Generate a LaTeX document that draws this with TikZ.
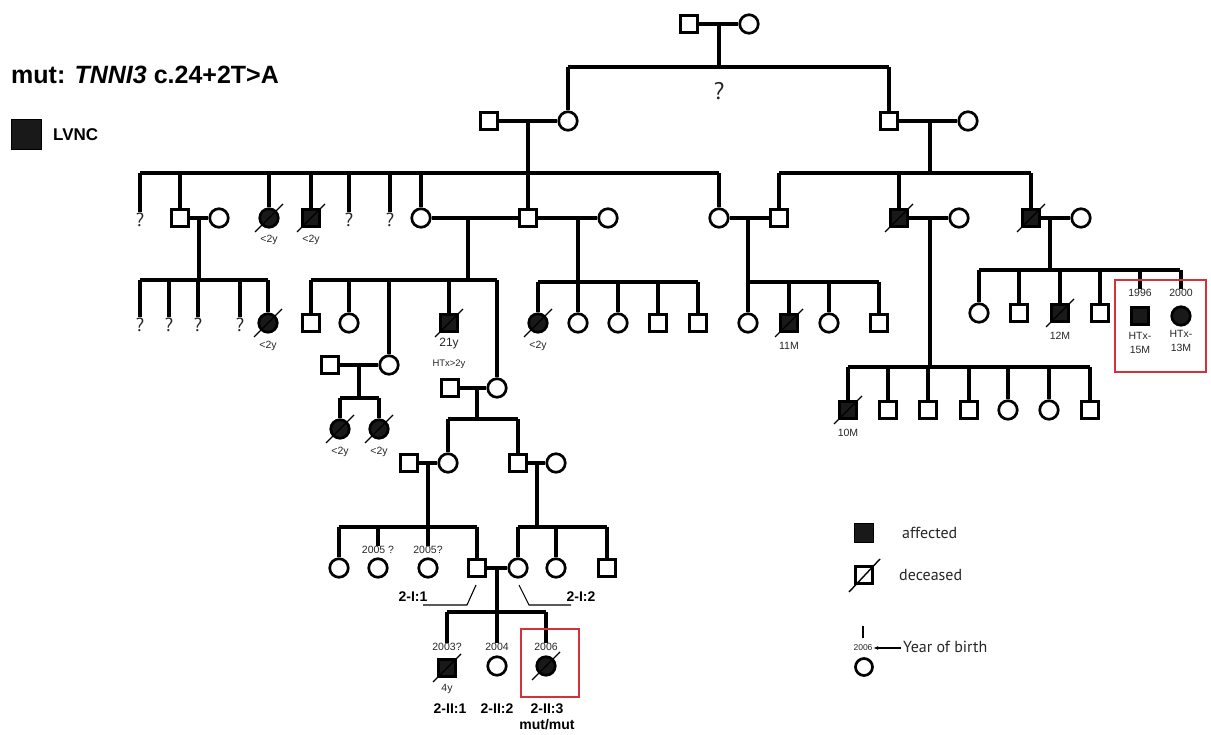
\documentclass[tikz,border=0pt]{standalone}
\usepackage{fontspec}
\setmainfont{Liberation Sans}
\newfontfamily\myr{PT Sans}
\usetikzlibrary{arrows.meta}
\definecolor{boxred}{RGB}{214,48,58}
\newcommand\decd[1]{\draw[dec] ([shift={(-14,14)}]#1.center) -- ([shift={(14,-14)}]#1.center);}
\begin{document}
\begin{tikzpicture}[x=1pt,y=-1pt,
 lin/.style={line width=3.1pt},
 sq/.style={draw,line width=2.7pt,rectangle,minimum size=17pt,inner sep=0pt},
 ci/.style={draw,line width=2.7pt,circle,minimum size=18.5pt,inner sep=0pt},
 aff/.style={fill=black!90},
 dec/.style={line width=1.3pt},
 q/.style={font=\myr\fontsize{19}{19}\selectfont,inner sep=0.5pt,text=black!85},
 sm/.style={font=\fontsize{10.5}{10.5}\selectfont,inner sep=0.5pt,text=black!85},
 yr/.style={font=\fontsize{10.5}{10.5}\selectfont,inner sep=0.5pt,text=black!85},
 idl/.style={font=\bfseries\fontsize{14}{14}\selectfont,inner sep=0.5pt},
 lead/.style={line width=1.1pt},
 rbox/.style={draw=boxred,line width=2.8pt},
 legt/.style={font=\myr\fontsize{16}{16}\selectfont,anchor=west,inner sep=0pt,text=black!85}
]
\useasboundingbox (0,0) rectangle (1211,735);

% title and LVNC key
\node[anchor=west,inner sep=0pt,font=\bfseries\fontsize{25}{25}\selectfont] (title) at (11,75) {mut: \textit{TNNI3} c.24+2T>A};
\node[draw,fill=black!90,line width=0.5pt,minimum size=30pt,inner sep=0pt] (lvsq) at (26,134) {};
\node[anchor=west,inner sep=0pt,font=\bfseries\fontsize{17}{17}\selectfont] (lvnc) at (53,135) {LVNC};

% ---------- Generation I ----------
\node[sq] (I1) at (689,24) {};
\node[ci] (I2) at (749,24) {};
\draw[lin] (I1) -- (I2);
\coordinate (dI) at (719,24);
\coordinate (sI) at (719,67);
\coordinate (sIl) at (568,67);
\coordinate (sIr) at (889,67);
\draw[lin] (dI) -- (sI);
\draw[lin] (sIl) -- (sIr);
\node[font=\myr\fontsize{24}{24}\selectfont,text=black!85] (qI) at (719,91) {?};

% ---------- Generation II ----------
\node[sq] (II1) at (489,121) {};
\node[ci] (II2) at (568,121) {};
\node[sq] (II3) at (889,121) {};
\node[ci] (II4) at (968,121) {};
\draw[lin] (II2) -- (II2 |- sI);
\draw[lin] (II3) -- (II3 |- sI);
\draw[lin] (II1) -- (II2);
\draw[lin] (II3) -- (II4);
\coordinate (dIIa) at (528,121);
\coordinate (dIIb) at (930,121);
\coordinate (sIIa) at (528,173);
\coordinate (sIIb) at (930,173);
\coordinate (sIIal) at (140,173);
\coordinate (sIIar) at (719,173);
\coordinate (sIIbl) at (779,173);
\coordinate (sIIbr) at (1031,173);
\draw[lin] (dIIa) -- (sIIa);
\draw[lin] (dIIb) -- (sIIb);
\draw[lin] (sIIal) -- (sIIar);
\draw[lin] (sIIbl) -- (sIIbr);

% ---------- Generation III ----------
\node[q] (qa) at (140,220) {?};
\node[sq] (G3a) at (180,218) {};
\node[ci] (G3b) at (219,218) {};
\node[ci,aff] (G3c) at (269,218) {};
\node[sq,aff] (G3d) at (311,218) {};
\node[q] (qb) at (349,220) {?};
\node[q] (qc) at (390,220) {?};
\node[ci] (G3e) at (421,218) {};
\node[sq] (G3f) at (528,218) {};
\node[ci] (G3g) at (608,218) {};
\node[ci] (G3h) at (719,218) {};
\node[sq] (G3i) at (779,218) {};
\node[sq,aff] (G3j) at (899,218) {};
\node[ci] (G3k) at (959,218) {};
\node[sq,aff] (G3l) at (1031,218) {};
\node[ci] (G3m) at (1081,218) {};
\decd{G3c}\decd{G3d}\decd{G3j}\decd{G3l}
\node[sm] (l3c) at (269,240) {<2y};
\node[sm] (l3d) at (311,240) {<2y};
\foreach \n in {qa,G3a,G3c,G3d,qb,qc,G3e,G3f,G3h}{\draw[lin] (\n) -- (\n |- sIIa);}
\foreach \n in {G3i,G3j,G3l}{\draw[lin] (\n) -- (\n |- sIIb);}
\draw[lin] (G3a) -- (G3b);
\draw[lin] (G3e) -- (G3f);
\draw[lin] (G3f) -- (G3g);
\draw[lin] (G3h) -- (G3i);
\draw[lin] (G3j) -- (G3k);
\draw[lin] (G3l) -- (G3m);

% descent lines from gen III couples
\coordinate (dA) at (199,218); \coordinate (sA) at (199,280);
\coordinate (dB) at (468,218); \coordinate (sB) at (468,280);
\coordinate (dC) at (578,218); \coordinate (sC) at (578,282);
\coordinate (dD) at (748,218); \coordinate (sD) at (748,282);
\coordinate (dE) at (930,218); \coordinate (sE) at (930,367);
\coordinate (dF) at (1050,218); \coordinate (sF) at (1050,270);
\foreach \a/\b in {dA/sA,dB/sB,dC/sC,dD/sD,dE/sE,dF/sF}{\draw[lin] (\a) -- (\b);}

% ---------- Generation IV ----------
% family A
\coordinate (sAl) at (140,280); \coordinate (sAr) at (268,280);
\draw[lin] (sAl) -- (sAr);
\node[q] (qd) at (140,325) {?};
\node[q] (qe) at (169,325) {?};
\node[q] (qf) at (198,325) {?};
\node[q] (qg) at (240,325) {?};
\node[ci,aff] (G4a) at (268,323) {};
\decd{G4a}
\node[sm] (l4a) at (268,346) {<2y};
\foreach \n in {qd,qe,qf,qg,G4a}{\draw[lin] (\n) -- (\n |- sA);}

% family B
\coordinate (sBl) at (311,280); \coordinate (sBr) at (497,280);
\draw[lin] (sBl) -- (sBr);
\node[sq] (G4b) at (311,323) {};
\node[ci] (G4c) at (349,323) {};
\node[ci] (G4d) at (389,365) {};
\node[sq,aff] (G4e) at (449,323) {};
\node[ci] (G4f) at (497,388) {};
\decd{G4e}
\node[sm,font=\fontsize{12}{12}\selectfont] (l4e) at (449,344) {21y};
\node[sm,font=\fontsize{9.5}{9.5}\selectfont] (l4e2) at (449,364) {HTx>2y};
\foreach \n in {G4b,G4c,G4d,G4e,G4f}{\draw[lin] (\n) -- (\n |- sB);}

% family C
\coordinate (sCl) at (538,282); \coordinate (sCr) at (698,282);
\draw[lin] (sCl) -- (sCr);
\node[ci,aff] (G4g) at (538,323) {};
\node[ci] (G4h) at (578,323) {};
\node[ci] (G4i) at (618,323) {};
\node[sq] (G4j) at (658,323) {};
\node[sq] (G4k) at (698,323) {};
\decd{G4g}
\node[sm] (l4g) at (538,346) {<2y};
\foreach \n in {G4g,G4h,G4i,G4j,G4k}{\draw[lin] (\n) -- (\n |- sC);}

% family D
\coordinate (sDl) at (748,282); \coordinate (sDr) at (879,282);
\draw[lin] (sDl) -- (sDr);
\node[ci] (G4l) at (748,323) {};
\node[sq,aff] (G4m) at (789,323) {};
\node[ci] (G4n) at (829,323) {};
\node[sq] (G4o) at (879,323) {};
\decd{G4m}
\node[sm] (l4m) at (789,346) {11M};
\foreach \n in {G4l,G4m,G4n,G4o}{\draw[lin] (\n) -- (\n |- sD);}

% family E
\coordinate (sEl) at (848,367); \coordinate (sEr) at (1090,367);
\draw[lin] (sEl) -- (sEr);
\node[sq,aff] (E1) at (848,410) {};
\node[sq] (E2) at (888,410) {};
\node[sq] (E3) at (928,410) {};
\node[sq] (E4) at (969,410) {};
\node[ci] (E5) at (1008,410) {};
\node[ci] (E6) at (1049,410) {};
\node[sq] (E7) at (1090,410) {};
\decd{E1}
\node[sm] (lE1) at (848,433) {10M};
\foreach \n in {E1,E2,E3,E4,E5,E6,E7}{\draw[lin] (\n) -- (\n |- sE);}

% family F
\coordinate (sFl) at (979,270); \coordinate (sFr) at (1180,270);
\draw[lin] (sFl) -- (sFr);
\node[ci] (F1) at (979,313) {};
\node[sq] (F2) at (1019,313) {};
\node[sq,aff] (F3) at (1060,313) {};
\node[sq] (F4) at (1100,313) {};
\node[yr] (yF5) at (1140,293) {1996};
\node[sq,aff] (F5) at (1140,316) {};
\node[yr] (yF6) at (1181,293) {2000};
\node[ci,aff] (F6) at (1181,316) {};
\decd{F3}
\node[sm] (lF3) at (1060,336) {12M};
\node[yr,align=center,font=\fontsize{10.5}{14}\selectfont] (lF5) at (1140,343) {HTx-\\15M};
\node[yr,align=center,font=\fontsize{10.5}{14}\selectfont] (lF6) at (1181,341) {HTx-\\13M};
\foreach \n in {F1,F2,F3,F4,yF5,yF6}{\draw[lin] (\n) -- (\n |- sF);}
\coordinate (rb1a) at (1115,280); \coordinate (rb1b) at (1206,372);
\draw[rbox] (rb1a) rectangle (rb1b);

% ---------- lower branch ----------
\node[sq] (H1) at (330,365) {};
\draw[lin] (H1) -- (G4d);
\coordinate (dH) at (359,365); \coordinate (sH) at (359,398);
\draw[lin] (dH) -- (sH);
\coordinate (sHl) at (340,398); \coordinate (sHr) at (379,398);
\draw[lin] (sHl) -- (sHr);
\node[ci,aff] (H1a) at (340,429) {};
\node[ci,aff] (H1b) at (379,429) {};
\decd{H1a}\decd{H1b}
\node[sm] (lH1a) at (340,452) {<2y};
\node[sm] (lH1b) at (379,452) {<2y};
\foreach \n in {H1a,H1b}{\draw[lin] (\n) -- (\n |- sH);}

\node[sq] (H2) at (450,388) {};
\draw[lin] (H2) -- (G4f);
\coordinate (dJ) at (477,388); \coordinate (sJ) at (477,419);
\draw[lin] (dJ) -- (sJ);
\coordinate (sJl) at (448,419); \coordinate (sJr) at (518,419);
\draw[lin] (sJl) -- (sJr);
\node[ci] (H3) at (448,463) {};
\node[sq] (H4) at (518,463) {};
\foreach \n in {H3,H4}{\draw[lin] (\n) -- (\n |- sJ);}
\node[sq] (H5) at (409,463) {};
\node[ci] (H6) at (556,463) {};
\draw[lin] (H5) -- (H3);
\draw[lin] (H4) -- (H6);
\coordinate (dK1) at (428,463); \coordinate (sK1) at (428,527);
\coordinate (dK2) at (537,463); \coordinate (sK2) at (537,527);
\draw[lin] (dK1) -- (sK1);
\draw[lin] (dK2) -- (sK2);
\coordinate (sK1l) at (339,527); \coordinate (sK1r) at (477,527);
\coordinate (sK2l) at (518,527); \coordinate (sK2r) at (607,527);
\draw[lin] (sK1l) -- (sK1r);
\draw[lin] (sK2l) -- (sK2r);
\node[ci] (K1) at (339,568) {};
\node[yr] (yK2) at (378,550) {2005 ?};
\node[ci] (K2) at (378,568) {};
\node[yr] (yK3) at (428,550) {2005?};
\node[ci] (K3) at (428,568) {};
\node[sq] (K4) at (477,568) {};
\node[ci] (K5) at (518,568) {};
\node[ci] (K6) at (556,568) {};
\node[sq] (K7) at (607,568) {};
\foreach \n in {K1,yK2,yK3,K4}{\draw[lin] (\n) -- (\n |- sK1);}
\foreach \n in {K5,K6,K7}{\draw[lin] (\n) -- (\n |- sK2);}
\draw[lin] (K4) -- (K5);
\coordinate (dL) at (497,568); \coordinate (sL) at (497,612);
\draw[lin] (dL) -- (sL);
\coordinate (sLl) at (447,612); \coordinate (sLr) at (546,612);
\draw[lin] (sLl) -- (sLr);
\node[yr] (yL1) at (447,647) {2003?};
\node[yr] (yL2) at (497,647) {2004};
\node[yr] (yL3) at (546,647) {2006};
\foreach \n in {yL1,yL2,yL3}{\draw[lin] (\n) -- (\n |- sL);}
\node[sq,aff] (L1) at (447,668) {};
\node[ci] (L2) at (497,666) {};
\node[ci,aff] (L3) at (546,666) {};
\decd{L1}\decd{L3}
\node[sm] (lL1) at (447,689) {4y};
\node[idl] (iL1) at (450,709) {2-II:1};
\node[idl] (iL2) at (497,709) {2-II:2};
\node[idl] (iL3) at (547,709) {2-II:3};
\node[idl] (mm) at (547,725) {mut/mut};
\coordinate (rb2a) at (521,629); \coordinate (rb2b) at (579,697);
\draw[rbox] (rb2a) rectangle (rb2b);

% 2-I labels
\node[idl] (iK4) at (413,597) {2-I:1};
\node[idl] (iK5) at (581,597) {2-I:2};
\coordinate (p1) at (423,605); \coordinate (p2) at (467,605); \coordinate (p3) at (476,585);
\draw[lead] (p1) -- (p2) -- (p3);
\coordinate (q1) at (519,585); \coordinate (q2) at (529,605); \coordinate (q3) at (571,605);
\draw[lead] (q1) -- (q2) -- (q3);

% ---------- legend ----------
\node[draw,fill=black!90,line width=0.5pt,minimum size=19pt,inner sep=0pt] (kaff) at (864,533) {};
\node[legt] (taff) at (902,533) {affected};
\node[draw,line width=2.7pt,minimum size=17pt,inner sep=0pt] (kdec) at (864,575) {};
\draw[line width=1.4pt] ([shift={(-15,17)}]kdec.center) -- ([shift={(16,-16)}]kdec.center);
\node[legt] (tdec) at (899,575) {deceased};
\node[font=\fontsize{8.5}{8.5}\selectfont,inner sep=0.5pt,text=black!85] (kyr) at (863,648) {2006};
\coordinate (tk1) at (863,626); \coordinate (tk2) at (863,638);
\draw[line width=2.6pt] (tk1) -- (tk2);
\node[legt] (tyr) at (903,647) {Year of birth};
\draw[line width=1.1pt,-{Latex[length=5pt,width=4pt]}] (tyr.west) ++(-2,1) -- (kyr.east);
\node[ci,minimum size=17pt] (kci) at (864,667) {};
\end{tikzpicture}
\end{document}
